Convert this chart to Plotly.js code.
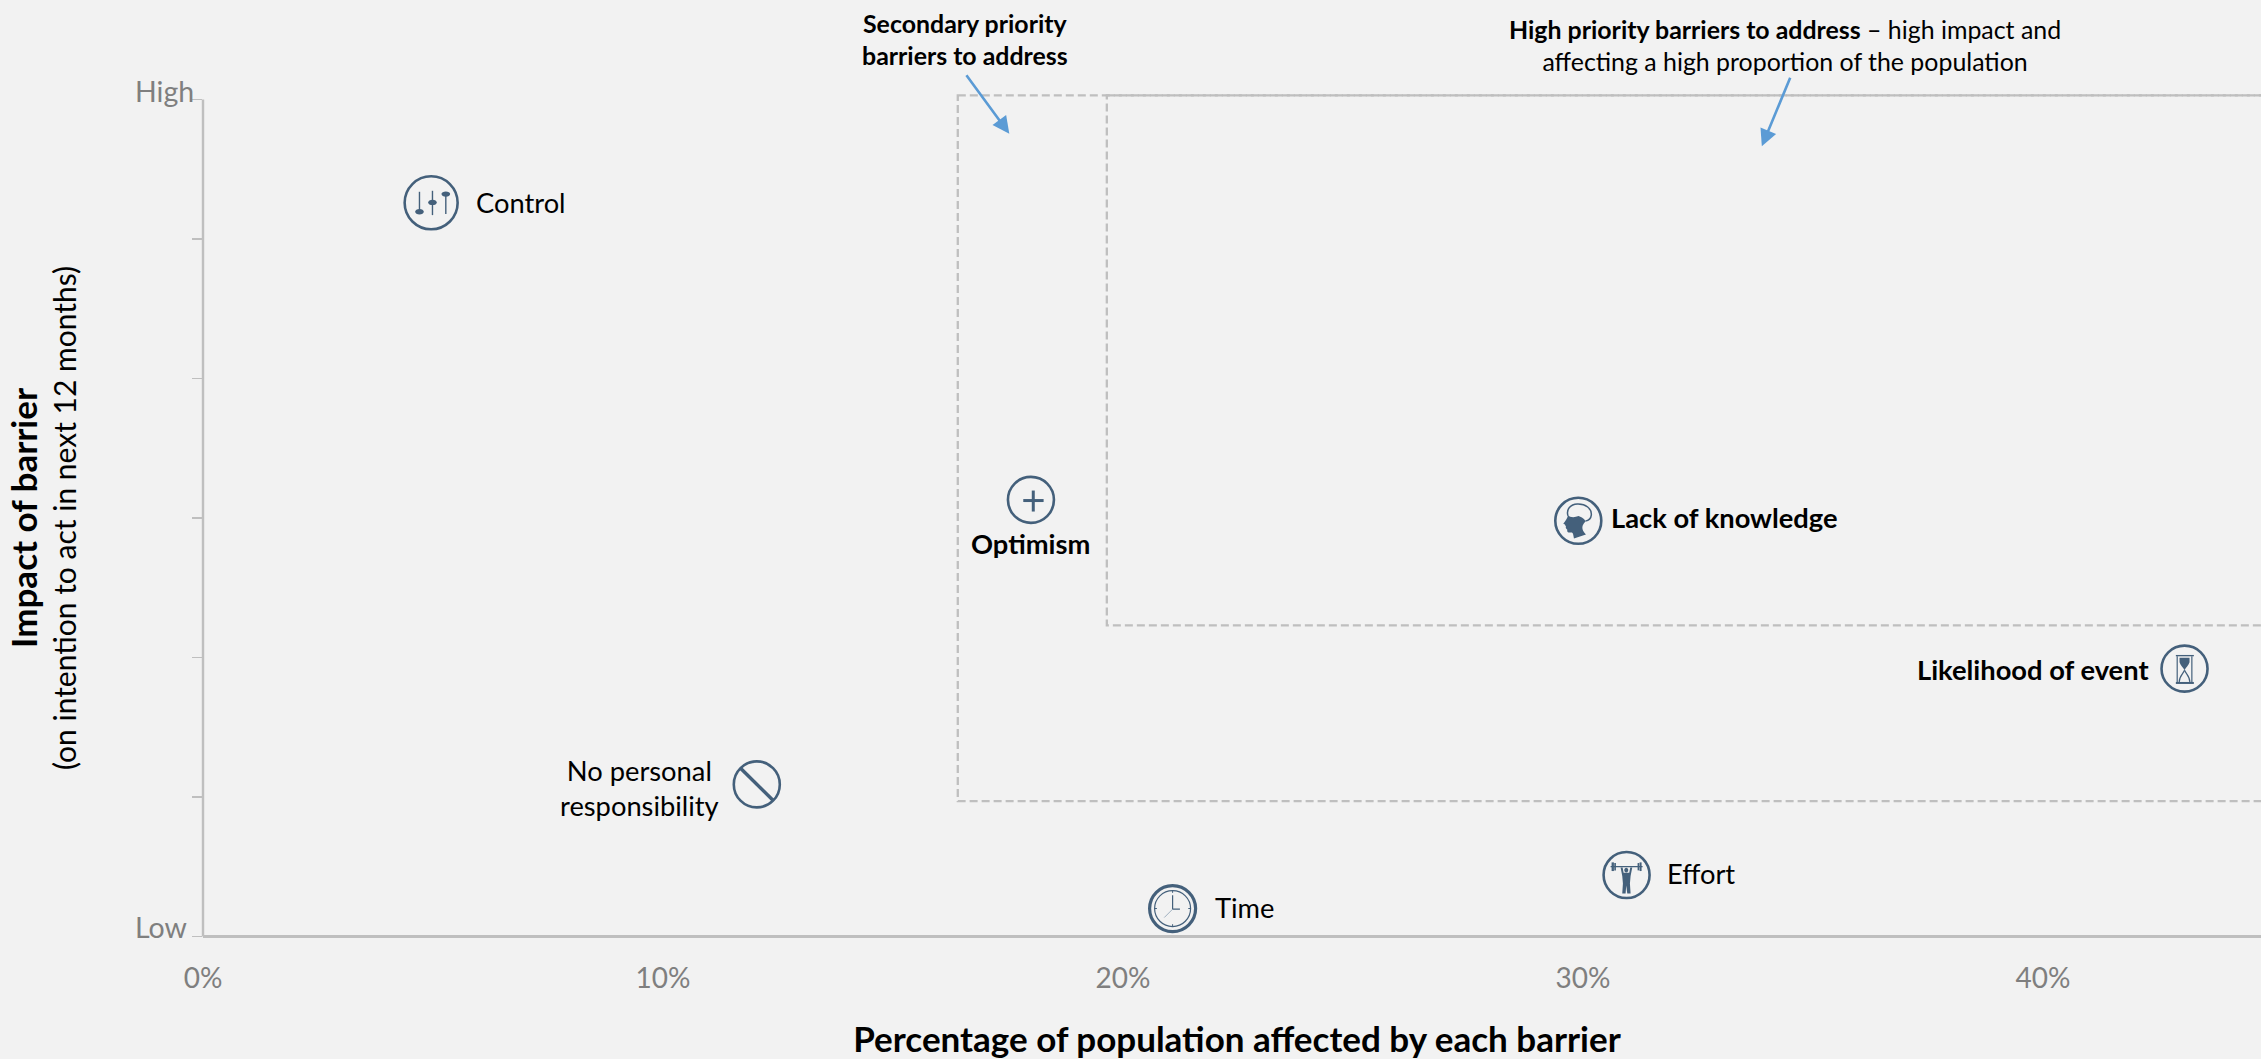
<!DOCTYPE html>
<html>
<head>
<meta charset="utf-8">
<script src="https://cdn.plot.ly/plotly-3.0.1.min.js"></script>
<style>
  html, body { margin: 0; padding: 0; background: #f2f2f2; overflow: hidden; }
</style>
</head>
<body>
<div id="chart"></div>
<script>
// Barriers: share of population affected (%) against impact on intention to act (0 = low, 6 = high)
const barrierNames = ["Control", "Optimism", "Lack of knowledge", "Likelihood of event", "No personal<br>responsibility", "Effort", "Time"];
const barrierShare = [4.96, 18.0, 29.9, 43.08, 12.04, 30.95, 21.08];
const barrierImpact = [5.26, 3.13, 2.98, 1.92, 1.09, 0.44, 0.2];
const barrierIsPriority = [false, true, true, true, false, false, false];
const barrierIcons = ["sliders", "plus", "head", "hourglass", "ban", "lifter", "clock"];

const xTickValues = [0, 10, 20, 30, 40];
const xTickLabels = ["0%", "10%", "20%", "30%", "40%"];
const yTickValues = [0, 1, 2, 3, 4, 5, 6];

// Priority zones on the same scales
const secondaryZone = { share: 16.41, impactTop: 6.03, impactBottom: 0.97 };
const highZone = { share: 19.65, impactTop: 6.03, impactBottom: 2.23 };
const zoneOpenEnd = 46;

const FONT = "Lato, Carlito, Calibri, sans-serif";
const INK = "#44607b";
const GREY = "#bfbfbf";
const TICK_TEXT = "#7f7f7f";
const ARROW = "#5b9bd5";

// Label placement around each icon, in pixels: [xshift, yshift, xanchor]
const labelPlacement = {
  sliders: [43, 0, "left"],
  plus: [0, -44, "center"],
  head: [31, 3, "left"],
  hourglass: [-34, -1, "right"],
  ban: [-117, -4, "center"],
  lifter: [38, 2, "left"],
  clock: [40, 1, "left"]
};
const iconDiameter = { sliders: 53 };
const defaultDiameter = 46;

// Glyphs are drawn on a grid of 3 units per screen pixel with y growing downward.
function oval(x, y, rx, ry) {
  const k = 0.5523, a = rx * k, b = ry * k;
  return `M ${x - rx} ${y} C ${x - rx} ${y - b} ${x - a} ${y - ry} ${x} ${y - ry} ` +
         `C ${x + a} ${y - ry} ${x + rx} ${y - b} ${x + rx} ${y} ` +
         `C ${x + rx} ${y + b} ${x + a} ${y + ry} ${x} ${y + ry} ` +
         `C ${x - a} ${y + ry} ${x - rx} ${y + b} ${x - rx} ${y} Z`;
}
function box(x0, y0, x1, y1) {
  return `M ${x0} ${y0} L ${x1} ${y0} L ${x1} ${y1} L ${x0} ${y1} Z`;
}
const fill = (d, color) => ({ d, fill: color || INK });
const stroke = (d, width, color) => ({ d, width, color: color || INK });

const glyphs = {
  sliders: { cx: 153, cy: 128, parts: [
    stroke("M 118 95 L 118 155", 1.4), fill(oval(118, 155, 13, 8)),
    stroke("M 157 92 L 157 165", 1.4), fill(oval(157, 127, 13, 8)),
    stroke("M 197 98 L 197 162", 1.4), fill(oval(197, 102, 13, 8))
  ]},
  plus: { cx: 155, cy: 120, parts: [
    stroke("M 132 122 L 193 122", 3), stroke("M 162 92 L 162 155", 3)
  ]},
  head: { cx: 83, cy: 77, parts: [
    stroke("M 52 62 C 46 42 60 28 80 27 C 105 26 124 40 122 60 C 121 70 114 76 104 78", 1.5),
    fill("M 52 60 C 58 68 72 68 84 63 C 92 66 104 72 104 80 C 94 90 90 102 106 118 L 70 130 C 68 120 68 112 62 112 C 54 113 48 112 50 104 C 47 100 44 98 46 94 C 44 92 44 90 43 88 L 38 86 C 44 78 50 72 52 60 Z")
  ]},
  hourglass: { cx: 134, cy: 115, parts: [
    fill(box(108, 74, 162, 78)), fill(box(108, 155, 162, 161)),
    stroke("M 112 78 L 112 155", 1.2), stroke("M 156 78 L 156 155", 1.2),
    fill("M 119 82 L 149 82 L 149 96 C 146 106 138 112 134 120 C 130 112 122 106 119 96 Z"),
    stroke("M 134 120 C 130 130 118 138 118 155", 1.2), stroke("M 134 120 C 138 130 150 138 150 155", 1.2)
  ]},
  ban: { cx: 140, cy: 133, parts: [ stroke("M 92 85 L 190 182", 3.5) ]},
  lifter: { cx: 80, cy: 75, parts: [
    stroke("M 32 50 L 128 50", 1.2),
    fill(box(35, 37, 42, 63)), fill(box(43, 39, 48, 61)),
    fill(box(113, 39, 118, 61)), fill(box(119, 37, 125, 63)),
    fill(oval(79, 60, 6, 7)),
    fill("M 62 52 L 68 52 L 71 68 L 88 68 L 91 52 L 97 52 L 92 78 L 90 100 L 92 130 L 82 130 L 79 106 L 77 130 L 67 130 L 69 100 L 67 78 Z")
  ]},
  clock: { cx: 128, cy: 145, parts: [
    stroke(oval(128, 145, 54, 54), 1.2),
    stroke("M 128 105 L 128 147 L 150 147", 1.2),
    stroke("M 128 147 L 103 172", 1, "#9fb0c0"),
    stroke("M 128 92 L 128 98", 1), stroke("M 128 192 L 128 198", 1),
    stroke("M 75 145 L 81 145", 1), stroke("M 175 145 L 181 145", 1)
  ]}
};

function toPixelPath(d, cx, cy) {
  return d.replace(/(-?[\d.]+) (-?[\d.]+)/g, (m, a, b) =>
    `${((+a - cx) / 3).toFixed(2)} ${((cy - +b) / 3).toFixed(2)}`);
}

// Icon artwork stays anchored on the data point, sized in pixels
const iconShapes = [];
barrierIcons.forEach((name, i) => {
  const g = glyphs[name];
  g.parts.forEach(p => {
    iconShapes.push({
      type: "path", layer: "above", xref: "x", yref: "y",
      xsizemode: "pixel", ysizemode: "pixel",
      xanchor: barrierShare[i], yanchor: barrierImpact[i],
      path: toPixelPath(p.d, g.cx, g.cy),
      fillcolor: p.fill || "rgba(0,0,0,0)",
      line: { color: p.color || INK, width: p.width || 0 }
    });
  });
});

const zoneShape = z => ({
  type: "rect", layer: "below", xref: "x", yref: "y",
  x0: z.share, x1: zoneOpenEnd, y0: z.impactTop, y1: z.impactBottom,
  line: { color: GREY, width: 2.3, dash: "8px,4px" }, fillcolor: "rgba(0,0,0,0)"
});

const labelAnnotations = barrierNames.map((name, i) => {
  const [dx, dy, anchor] = labelPlacement[barrierIcons[i]];
  return {
    x: barrierShare[i], y: barrierImpact[i], xref: "x", yref: "y",
    xshift: dx, yshift: dy, xanchor: anchor, yanchor: "middle", align: "center",
    showarrow: false, text: barrierIsPriority[i] ? `<b>${name}</b>` : name,
    font: { family: FONT, size: 27.3, color: "#000000" }
  };
});

const scaleLabels = [["High", 6], ["Low", 0]].map(([text, y]) => ({
  x: 0, y, xref: "x", yref: "y", xshift: -70, yshift: 9, xanchor: "left", yanchor: "middle",
  showarrow: false, text, font: { family: FONT, size: 28.5, color: TICK_TEXT }
}));

const calloutFont = { family: FONT, size: 24.9, color: "#000000" };
const callouts = [
  { xref: "paper", yref: "paper", x: (965 - 203) / 2068, y: 1 + (94.4 - 39) / 847.2, xanchor: "center", yanchor: "middle",
    showarrow: false, align: "center", font: calloutFont,
    text: "<b>Secondary priority<br>barriers to address</b>" },
  { xref: "paper", yref: "paper", x: (1785 - 203) / 2068, y: 1 + (94.4 - 45) / 847.2, xanchor: "center", yanchor: "middle",
    showarrow: false, align: "center", font: calloutFont,
    text: "<b>High priority barriers to address</b> \u2013 high impact and<br>affecting a high proportion of the population" },
  { xref: "x", yref: "y", x: 17.53, y: 5.755, text: "", showarrow: true, arrowhead: 2, arrowsize: 1.3, arrowwidth: 2.6,
    arrowcolor: ARROW, ax: -44, ay: -60, standoff: 0 },
  { xref: "x", yref: "y", x: 33.89, y: 5.665, text: "", showarrow: true, arrowhead: 2, arrowsize: 1.3, arrowwidth: 2.6,
    arrowcolor: ARROW, ax: 29, ay: -70, standoff: 0 }
];

const traces = [{
  type: "scatter", mode: "markers", x: barrierShare, y: barrierImpact, cliponaxis: false, hoverinfo: "skip",
  marker: {
    symbol: "circle", opacity: 1,
    size: barrierIcons.map(n => iconDiameter[n] || defaultDiameter),
    color: "rgba(0,0,0,0)",
    line: { color: INK, width: barrierIcons.map(n => n === "clock" ? 3.2 : 2.6) }
  }
}];

const layout = {
  width: 2271, height: 1059,
  margin: { l: 203, r: 0, t: 94.4, b: 117.4 },
  paper_bgcolor: "#f2f2f2", plot_bgcolor: "#f2f2f2",
  showlegend: false,
  font: { family: FONT },
  xaxis: {
    range: [0, 44.96], showgrid: false, zeroline: false, showline: false, ticks: "",
    tickmode: "array", tickvals: xTickValues, ticktext: xTickLabels,
    tickfont: { family: FONT, size: 28, color: TICK_TEXT },
    ticklabelstandoff: 17,
    title: { text: "<b>Percentage of population affected by each barrier</b>", standoff: 35,
             font: { family: FONT, size: 35, color: "#000000" } }
  },
  yaxis: {
    range: [-0.04, 6.04], showgrid: false, showline: false,
    zeroline: true, zerolinecolor: GREY, zerolinewidth: 2.4,
    ticks: "outside", ticklen: 10, tickwidth: 1.5, tickcolor: GREY,
    tickmode: "array", tickvals: yTickValues, ticktext: yTickValues.map(() => ""),
    title: { text: '<span style="font-size:35px"><b>Impact of barrier</b></span><br><span style="font-size:30px">(on intention to act in next 12 months)</span>',
             standoff: 104, font: { family: FONT, size: 30, color: "#000000" } }
  },
  shapes: [
    zoneShape(secondaryZone),
    zoneShape(highZone),
    { type: "line", layer: "below", xref: "paper", yref: "y", x0: 0, x1: 0, y0: 0, y1: 6, line: { color: GREY, width: 2.4 } }
  ].concat(iconShapes),
  annotations: labelAnnotations.concat(scaleLabels, callouts)
};

Plotly.newPlot("chart", traces, layout, { displayModeBar: false, staticPlot: true });
</script>
</body>
</html>
